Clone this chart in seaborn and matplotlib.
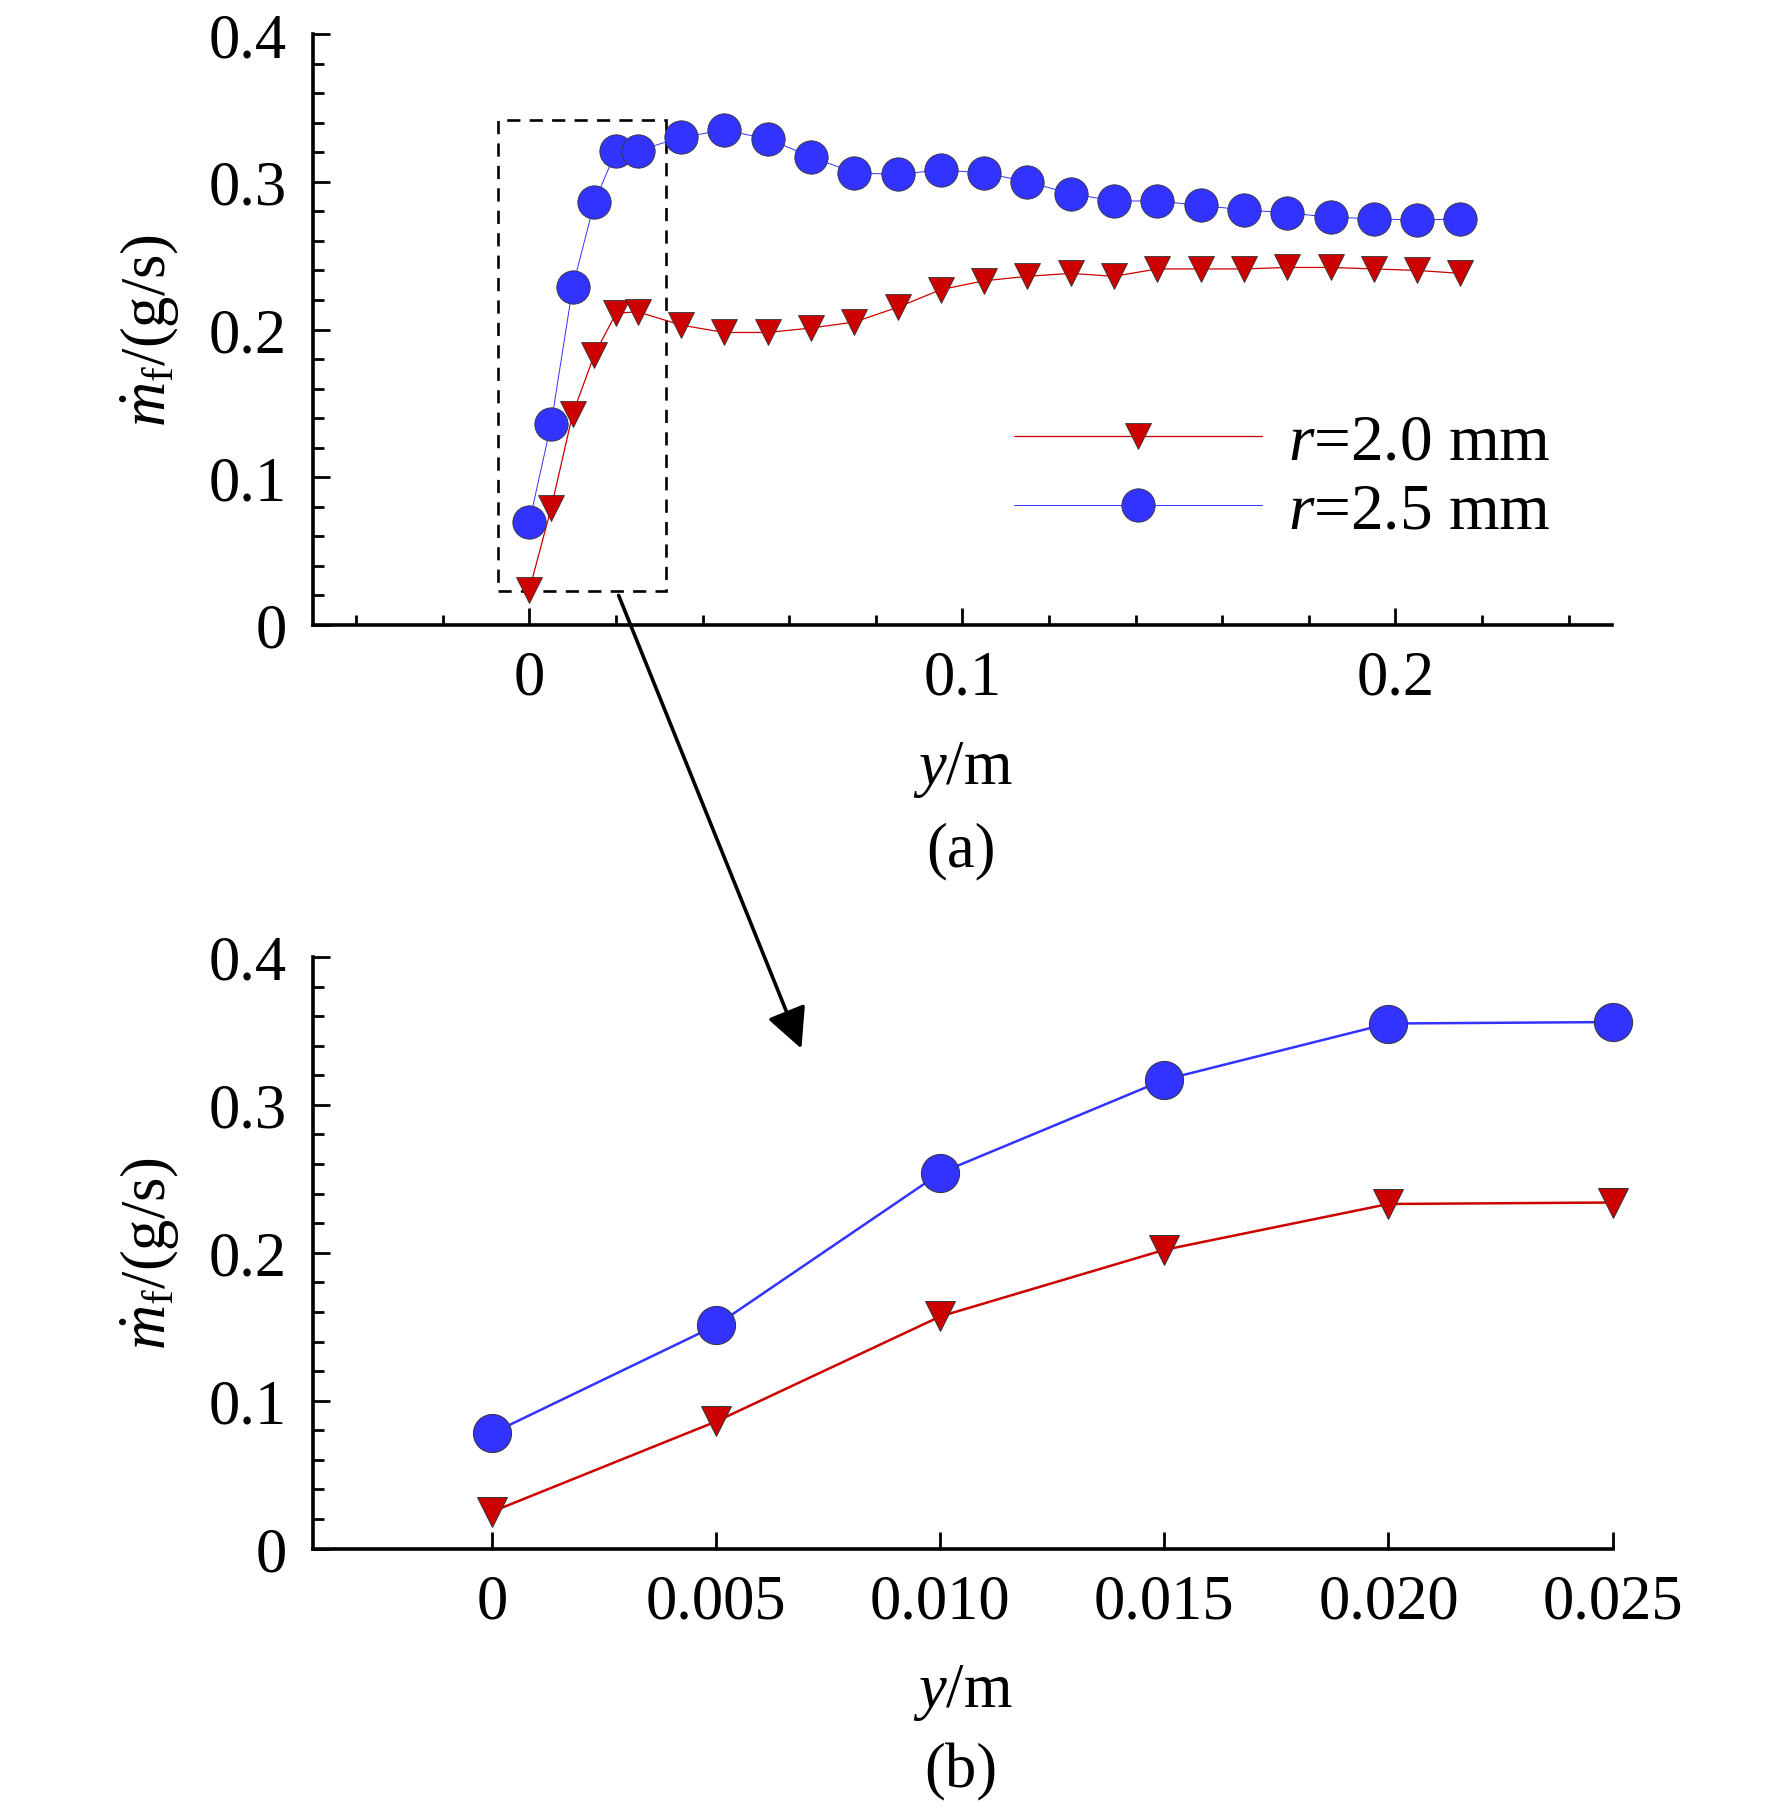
import numpy as np
import pandas as pd
import seaborn as sns
import matplotlib
matplotlib.use("Agg")
import matplotlib.pyplot as plt
from matplotlib.patches import Rectangle, ConnectionPatch
from matplotlib.ticker import FixedLocator, FixedFormatter

# # # data # # #

y_full = [0, 0.005, 0.010, 0.015, 0.020, 0.025, 0.035, 0.045, 0.055, 0.065,
          0.075, 0.085, 0.095, 0.105, 0.115, 0.125, 0.135, 0.145, 0.155,
          0.165, 0.175, 0.185, 0.195, 0.205, 0.215]
mf_r20_full = [0.024, 0.079, 0.143, 0.183, 0.211, 0.212, 0.203, 0.198, 0.198,
               0.201, 0.205, 0.215, 0.227, 0.233, 0.236, 0.238, 0.236, 0.241,
               0.241, 0.241, 0.242, 0.242, 0.241, 0.240, 0.238]
mf_r25_full = [0.070, 0.136, 0.229, 0.286, 0.321, 0.321, 0.330, 0.335, 0.329,
               0.317, 0.306, 0.305, 0.308, 0.306, 0.300, 0.292, 0.287, 0.287,
               0.284, 0.281, 0.279, 0.276, 0.275, 0.274, 0.275]

y_zoom = [0, 0.005, 0.010, 0.015, 0.020, 0.025]
mf_r20_zoom = [0.025, 0.086, 0.157, 0.202, 0.233, 0.234]
mf_r25_zoom = [0.078, 0.151, 0.254, 0.317, 0.355, 0.356]

labels = [r'$r$=2.0 mm', r'$r$=2.5 mm']
xticks_a = [0, 0.1, 0.2]
xticklabels_a = ['0', '0.1', '0.2']
xticks_b = [0, 0.005, 0.010, 0.015, 0.020, 0.025]
xticklabels_b = ['0', '0.005', '0.010', '0.015', '0.020', '0.025']
yticks = [0, 0.1, 0.2, 0.3, 0.4]
yticklabels = ['0', '0.1', '0.2', '0.3', '0.4']

# # # style # # #

sns.set_style('ticks')
plt.rcParams['font.family'] = ['Liberation Serif', 'DejaVu Serif']
plt.rcParams['mathtext.fontset'] = 'custom'
plt.rcParams['mathtext.rm'] = 'Liberation Serif'
plt.rcParams['mathtext.it'] = 'Liberation Serif:italic'
plt.rcParams['axes.linewidth'] = 2.6
for key in ['text.color', 'axes.labelcolor', 'axes.edgecolor',
            'xtick.color', 'ytick.color']:
    plt.rcParams[key] = 'black'

RED = '#cc0000'
BLUE = '#3333ff'
FS = 45

fig = plt.figure(figsize=(17.72, 18.15), dpi=100)
ax_a = fig.add_axes([0.1766, 0.6551, 0.7331, 0.3256])
ax_b = fig.add_axes([0.1766, 0.1462, 0.7334, 0.3260])

# # # (a) full range # # #

sns.lineplot(x=y_full, y=mf_r20_full, ax=ax_a, color=RED, marker='v',
             markersize=18.5, markerfacecolor=RED, markeredgecolor='#333333',
             markeredgewidth=0.6, linewidth=0.9, label=labels[0])
sns.lineplot(x=y_full, y=mf_r25_full, ax=ax_a, color=BLUE, marker='o',
             markersize=24, markerfacecolor=BLUE, markeredgecolor='#333333',
             markeredgewidth=0.6, linewidth=0.7, label=labels[1])

ax_a.set_xlim(-0.05, 0.25)
ax_a.xaxis.set_major_locator(FixedLocator(xticks_a))
ax_a.xaxis.set_major_formatter(FixedFormatter(xticklabels_a))
ax_a.xaxis.set_minor_locator(FixedLocator(np.arange(-0.04, 0.25, 0.02)))

# dashed box around the zoomed region
ax_a.add_patch(Rectangle((-0.0072, 0.0233), 0.0388, 0.3187, fill=False,
                         linestyle=(0, (5, 3.5)), linewidth=1.9, edgecolor='black'))

leg = ax_a.legend(loc='center left', bbox_to_anchor=(0.5397, 0.25),
                  frameon=False, fontsize=47, handlelength=3.8,
                  handletextpad=0.4, labelspacing=0.15, borderpad=0,
                  borderaxespad=0)

# # # (b) zoomed range # # #

sns.lineplot(x=y_zoom, y=mf_r20_zoom, ax=ax_b, color=RED, marker='v',
             markersize=22, markerfacecolor=RED, markeredgecolor='#333333',
             markeredgewidth=0.7, linewidth=1.8, clip_on=False)
sns.lineplot(x=y_zoom, y=mf_r25_zoom, ax=ax_b, color=BLUE, marker='o',
             markersize=27.5, markerfacecolor=BLUE, markeredgecolor='#333333',
             markeredgewidth=0.7, linewidth=1.8, clip_on=False)

ax_b.set_xlim(-0.004, 0.025)
ax_b.xaxis.set_major_locator(FixedLocator(xticks_b))
ax_b.xaxis.set_major_formatter(FixedFormatter(xticklabels_b))

# # # common axis styling # # #

for ax in (ax_a, ax_b):
    ax.set_ylim(0, 0.4)
    ax.yaxis.set_major_locator(FixedLocator(yticks))
    ax.yaxis.set_major_formatter(FixedFormatter(yticklabels))
    ax.yaxis.set_minor_locator(FixedLocator(np.arange(0.02, 0.4, 0.02)))
    ax.spines['top'].set_visible(False)
    ax.spines['right'].set_visible(False)
    ax.tick_params(which='both', direction='in', width=2, labelsize=FS,
                   top=False, right=False)
    ax.tick_params(axis='y', which='major', length=12, pad=19)
    ax.tick_params(axis='y', which='minor', length=8)
    ax.tick_params(axis='x', which='major', length=12, pad=18)
    ax.tick_params(axis='x', which='minor', length=7)
    ax.set_xlabel(r'$y$/m', fontsize=FS, labelpad=22)
    ax.set_ylabel(r'$\dot{m}_\mathrm{f}$/(g/s)', fontsize=FS, labelpad=20)

fig.text(0.5423, 1 - 851 / 1815, '(a)', fontsize=FS, ha='center', va='center')
fig.text(0.5423, 1 - 1772 / 1815, '(b)', fontsize=FS, ha='center', va='center')

# arrow from the box in (a) down into (b)
arrow = ConnectionPatch(xyA=(0.0206, 0.020), coordsA=ax_a.transData,
                        xyB=(0.0069, 0.338), coordsB=ax_b.transData,
                        arrowstyle='-|>', mutation_scale=62, linewidth=2.6,
                        color='black')
fig.add_artist(arrow)

fig.savefig('out.png', dpi=100)
